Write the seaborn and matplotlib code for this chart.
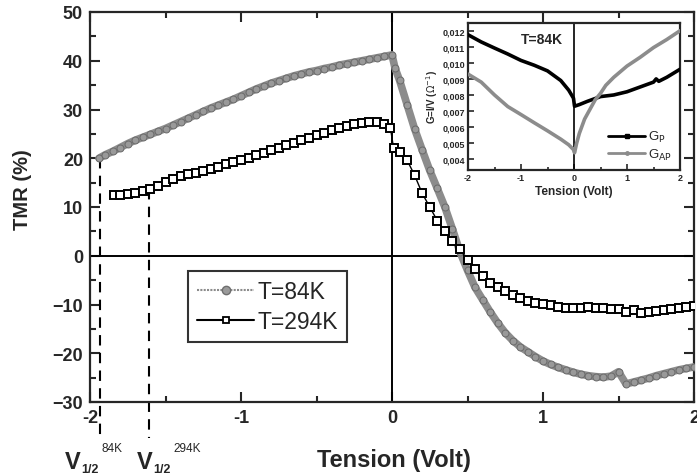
import numpy as np
import pandas as pd
import matplotlib
matplotlib.use("Agg")
import matplotlib.pyplot as plt
import seaborn as sns
from matplotlib.lines import Line2D
from matplotlib.ticker import MultipleLocator

# ---------------- data ----------------
v_84 = [-1.94, -1.9, -1.85, -1.8, -1.75, -1.7, -1.65, -1.6, -1.55, -1.5,
        -1.45, -1.4, -1.35, -1.3, -1.25, -1.2, -1.15, -1.1, -1.05, -1.0,
        -0.95, -0.9, -0.85, -0.8, -0.75, -0.7, -0.65, -0.6, -0.55, -0.5,
        -0.45, -0.4, -0.35, -0.3, -0.25, -0.2, -0.15, -0.1, -0.05, 0.0,
        0.02, 0.05, 0.1, 0.15, 0.2, 0.25, 0.3, 0.35, 0.4, 0.45,
        0.5, 0.55, 0.6, 0.65, 0.7, 0.75, 0.8, 0.85, 0.9, 0.95,
        1.0, 1.05, 1.1, 1.15, 1.2, 1.25, 1.3, 1.35, 1.4, 1.45,
        1.5, 1.55, 1.6, 1.65, 1.7, 1.75, 1.8, 1.85, 1.9, 1.95, 2.0]
tmr_84 = [20.0, 20.7, 21.4, 22.2, 23.0, 23.7, 24.3, 24.9, 25.5, 26.1,
          26.8, 27.5, 28.2, 28.9, 29.6, 30.3, 30.9, 31.5, 32.1, 32.8,
          33.5, 34.2, 34.8, 35.4, 35.9, 36.4, 36.9, 37.3, 37.7, 38.0,
          38.4, 38.7, 39.1, 39.4, 39.7, 40.0, 40.3, 40.6, 40.9, 41.2,
          38.5, 36.0, 31.0, 26.0, 21.7, 17.5, 13.8, 10.0, 5.5, 0.8,
          -3.0, -6.5, -9.0, -11.5, -13.8, -15.8, -17.4, -18.7, -19.7, -20.7,
          -21.6, -22.3, -22.9, -23.4, -23.9, -24.3, -24.6, -24.8, -24.9, -24.7,
          -23.8, -26.3, -25.9, -25.5, -25.1, -24.6, -24.2, -23.8, -23.4, -23.1, -22.8]

v_294 = [-1.84, -1.8, -1.75, -1.7, -1.65, -1.6, -1.55, -1.5, -1.45, -1.4,
         -1.35, -1.3, -1.25, -1.2, -1.15, -1.1, -1.05, -1.0, -0.95, -0.9,
         -0.85, -0.8, -0.75, -0.7, -0.65, -0.6, -0.55, -0.5, -0.45, -0.4,
         -0.35, -0.3, -0.25, -0.2, -0.15, -0.1, -0.05, -0.01, 0.01, 0.05,
         0.1, 0.15, 0.2, 0.25, 0.3, 0.35, 0.4, 0.45, 0.5, 0.55,
         0.6, 0.65, 0.7, 0.75, 0.8, 0.85, 0.9, 0.95, 1.0, 1.05,
         1.1, 1.15, 1.2, 1.25, 1.3, 1.35, 1.4, 1.45, 1.5, 1.55,
         1.6, 1.65, 1.7, 1.75, 1.8, 1.85, 1.9, 1.95, 2.0]
tmr_294 = [12.4, 12.5, 12.6, 12.8, 13.2, 13.7, 14.3, 15.2, 15.8, 16.3,
           16.7, 17.0, 17.3, 17.8, 18.3, 18.8, 19.2, 19.6, 20.1, 20.6,
           21.1, 21.6, 22.1, 22.7, 23.2, 23.7, 24.2, 24.7, 25.2, 25.7,
           26.2, 26.6, 27.0, 27.3, 27.4, 27.4, 27.0, 26.2, 22.1, 21.3,
           19.6, 16.5, 12.8, 10.0, 7.2, 5.0, 3.1, 1.3, -0.8, -2.8,
           -4.1, -5.5, -6.4, -7.2, -8.0, -8.7, -9.2, -9.6, -9.9, -10.2,
           -10.5, -10.7, -10.8, -10.7, -10.6, -10.7, -10.8, -11.0, -11.0, -11.5,
           -11.2, -11.7, -11.5, -11.3, -11.2, -10.9, -10.7, -10.5, -10.3]

v_gp = [-2.0, -1.75, -1.5, -1.25, -1.0, -0.75, -0.5, -0.25, -0.1, -0.01,
        0.01, 0.1, 0.25, 0.5, 0.75, 1.0, 1.25, 1.5, 1.55, 1.6, 1.75, 2.0]
g_p = [0.01175, 0.0113, 0.01092, 0.01055, 0.01015, 0.00985, 0.0095, 0.0089, 0.0083, 0.0078,
       0.0073, 0.0074, 0.0076, 0.0079, 0.0080, 0.0082, 0.0085, 0.0088, 0.0090, 0.00885, 0.0091, 0.0096]

v_gap = [-2.0, -1.75, -1.5, -1.25, -1.0, -0.75, -0.5, -0.25, -0.1, -0.01,
         0.01, 0.05, 0.1, 0.2, 0.3, 0.4, 0.5, 0.6, 0.75, 1.0, 1.25, 1.5, 1.75, 2.0]
g_ap = [0.0093, 0.0088, 0.0080, 0.00728, 0.00678, 0.00627, 0.00577, 0.00525, 0.0049, 0.0046,
        0.0044, 0.0050, 0.0056, 0.0065, 0.0071, 0.0077, 0.0081, 0.0086, 0.0091, 0.0098,
        0.01035, 0.01095, 0.01145, 0.0120]

main_xticks = [-2, -1, 0, 1, 2]
main_xticklabels = ["-2", "-1", "0", "1", "2"]
main_yticks = [-30, -20, -10, 0, 10, 20, 30, 40, 50]
inset_xticks = [-2, -1, 0, 1, 2]
inset_yticks = [0.004, 0.005, 0.006, 0.007, 0.008, 0.009, 0.010, 0.011, 0.012]
inset_yticklabels = ["0,004", "0,005", "0,006", "0,007", "0,008", "0,009", "0,010", "0,011", "0,012"]
v_half = [-1.934, -1.61]
v_half_tmr = [20.0, 13.7]
v_half_sup = ["84K", "294K"]

# ---------------- style ----------------
sns.set_style("ticks")
plt.rcParams["font.family"] = ["Liberation Sans", "DejaVu Sans"]
plt.rcParams["axes.linewidth"] = 1.6

GRAY = "#8c8c8c"

fig = plt.figure(figsize=(6.97, 4.77), dpi=100)
ax = fig.add_axes([90 / 697, 1 - 403 / 477, 604 / 697, 390 / 477])

df84 = pd.DataFrame({"V": v_84, "TMR": tmr_84})
df294 = pd.DataFrame({"V": v_294, "TMR": tmr_294})

sns.lineplot(data=df84, x="V", y="TMR", ax=ax, sort=False, estimator=None,
             color=GRAY, lw=5.5, marker="o", ms=5, mfc="#999999", mec="#6a6a6a",
             mew=0.7, zorder=3)
sns.lineplot(data=df294, x="V", y="TMR", ax=ax, sort=False, estimator=None,
             color="black", lw=1, marker="s", ms=5.4, mfc="white", mec="black",
             mew=1.4, zorder=4)

ax.axhline(0, color="black", lw=1.4, zorder=2)
ax.axvline(0, color="black", lw=1.4, zorder=2)

for vx, vy in zip(v_half, v_half_tmr):
    ax.plot([vx, vx], [vy, -37.4], color="black", lw=1.5, ls=(0, (5, 3.5)),
            clip_on=False, zorder=2)

ax.set_xlim(-2, 2)
ax.set_ylim(-30, 50)
ax.set_xticks(main_xticks)
ax.set_xticklabels(main_xticklabels)
ax.set_yticks(main_yticks)
ax.xaxis.set_minor_locator(MultipleLocator(0.5))
ax.yaxis.set_minor_locator(MultipleLocator(5))
ax.tick_params(which="both", direction="in", top=True, right=True, width=1.5)
ax.tick_params(which="major", length=7, labelsize=13, pad=5)
ax.tick_params(which="minor", length=4)
for lab in ax.get_xticklabels() + ax.get_yticklabels():
    lab.set_fontweight("bold")
ax.set_xlabel("")
ax.set_ylabel("")

fig.text(394 / 697, 1 - 461 / 477, "Tension (Volt)", fontsize=17, fontweight="bold",
         ha="center", va="center")
fig.text(22 / 697, 1 - 190 / 477, "TMR (%)", fontsize=14.5, fontweight="bold",
         ha="center", va="center", rotation=90)

# V1/2 annotations
vpos = [65, 137]
for xp, sup in zip(vpos, v_half_sup):
    fig.text(xp / 697, 1 - 469 / 477, "V", fontsize=17, fontweight="bold", ha="left", va="baseline")
    fig.text((xp + 16) / 697, 1 - 473 / 477, "1/2", fontsize=9, fontweight="bold", ha="left", va="baseline")
    fig.text((xp + 36) / 697, 1 - 452 / 477, sup, fontsize=8.5, ha="left", va="baseline")

handles = [
    Line2D([], [], color=GRAY, lw=1.5, ls=(0, (1, 0.6)), marker="o", ms=6, mfc="#9a9a9a", mec="#6f6f6f"),
    Line2D([], [], color="black", lw=1.5, marker="s", ms=5, mfc="white", mec="black", mew=1.3),
]
leg = ax.legend(handles, ["T=84K", "T=294K"], loc="upper left",
                bbox_to_anchor=(0.162, 0.336), borderaxespad=0, fontsize=16.5,
                frameon=True, fancybox=False, edgecolor="black", handlelength=2.5,
                handletextpad=0.15, borderpad=0.4, labelspacing=0.3)
leg.get_frame().set_linewidth(1.5)

# ---------------- inset ----------------
ins = fig.add_axes([468 / 697, 1 - 171 / 477, 212 / 697, 147 / 477])
dfp = pd.DataFrame({"V": v_gp, "G": g_p})
dfap = pd.DataFrame({"V": v_gap, "G": g_ap})
sns.lineplot(data=dfp, x="V", y="G", ax=ins, sort=False, estimator=None,
             color="black", lw=2.6, zorder=3)
sns.lineplot(data=dfap, x="V", y="G", ax=ins, sort=False, estimator=None,
             color=GRAY, lw=2.6, zorder=3)
ins.axvline(0, color="black", lw=1.2, zorder=2)
ins.set_xlim(-2, 2)
ins.set_ylim(0.00333, 0.01248)
ins.set_xticks(inset_xticks)
ins.set_xticklabels([str(t) for t in inset_xticks])
ins.set_yticks(inset_yticks)
ins.set_yticklabels(inset_yticklabels)
ins.xaxis.set_minor_locator(MultipleLocator(0.5))
ins.tick_params(which="both", direction="in", width=1.2)
ins.tick_params(which="major", length=4, labelsize=6.5, pad=2)
ins.tick_params(which="minor", length=2.5)
for lab in ins.get_xticklabels() + ins.get_yticklabels():
    lab.set_fontweight("bold")
for sp in ins.spines.values():
    sp.set_linewidth(1.6)
ins.set_xlabel("Tension (Volt)", fontsize=8.6, fontweight="bold", labelpad=2)
ins.set_ylabel(r"G=I/V ($\Omega^{-1}$)", fontsize=7, fontweight="bold", labelpad=2)
ins.text(0.35, 0.89, "T=84K", transform=ins.transAxes, fontsize=10, fontweight="bold",
         ha="center", va="center")
ih = [Line2D([], [], color="black", lw=2, marker="s", ms=2.5),
      Line2D([], [], color=GRAY, lw=2, marker="o", ms=2.5)]
ins.legend(ih, [r"G$_\mathrm{P}$", r"G$_\mathrm{AP}$"], loc="lower right", frameon=False,
           fontsize=9.5, handlelength=2.8, handletextpad=0.2, borderaxespad=0.2,
           labelspacing=0.2)

fig.savefig("out.png", dpi=100)
